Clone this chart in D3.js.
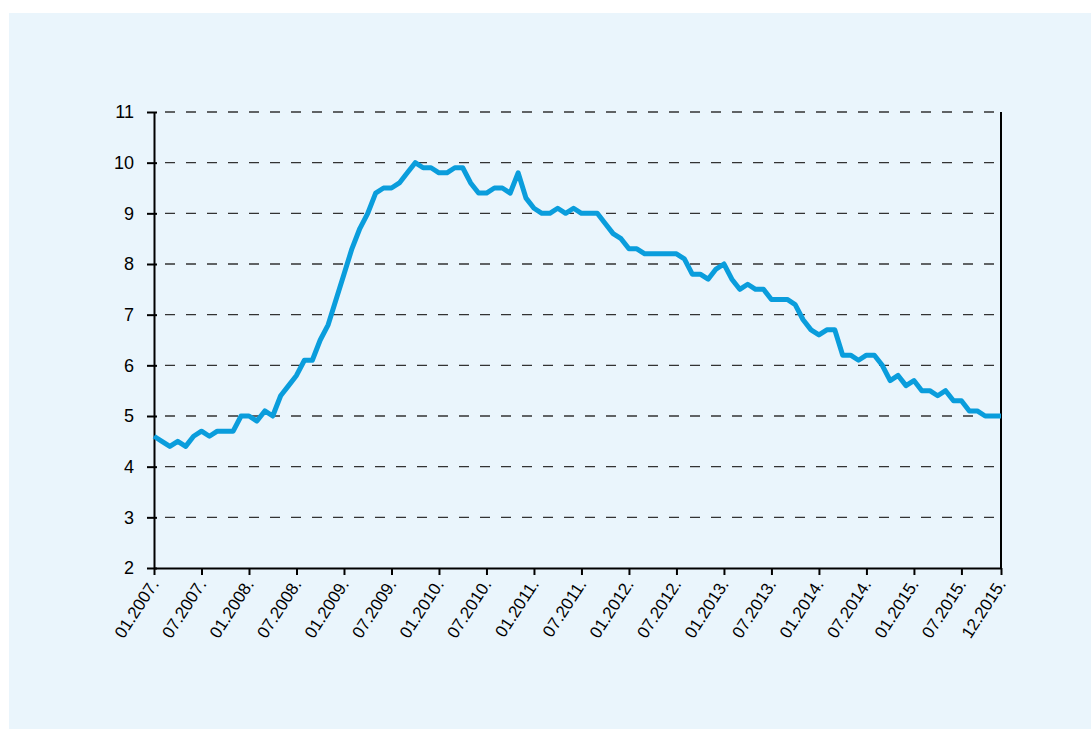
<!DOCTYPE html>
<html>
<head>
<meta charset="utf-8">
<script src="https://cdn.jsdelivr.net/npm/d3@7"></script>
<style>
	body { margin: 0; background: #ffffff; }
	svg { display: block; font-family: "Liberation Sans", Arial, sans-serif; }
</style>
</head>
<body>
<div id="chart-area"></div>
<script>
// monthly values, 01.2007 - 12.2015
var values = [
	4.6, 4.5, 4.4, 4.5, 4.4, 4.6, 4.7, 4.6, 4.7, 4.7, 4.7, 5.0,
	5.0, 4.9, 5.1, 5.0, 5.4, 5.6, 5.8, 6.1, 6.1, 6.5, 6.8, 7.3,
	7.8, 8.3, 8.7, 9.0, 9.4, 9.5, 9.5, 9.6, 9.8, 10.0, 9.9, 9.9,
	9.8, 9.8, 9.9, 9.9, 9.6, 9.4, 9.4, 9.5, 9.5, 9.4, 9.8, 9.3,
	9.1, 9.0, 9.0, 9.1, 9.0, 9.1, 9.0, 9.0, 9.0, 8.8, 8.6, 8.5,
	8.3, 8.3, 8.2, 8.2, 8.2, 8.2, 8.2, 8.1, 7.8, 7.8, 7.7, 7.9,
	8.0, 7.7, 7.5, 7.6, 7.5, 7.5, 7.3, 7.3, 7.3, 7.2, 6.9, 6.7,
	6.6, 6.7, 6.7, 6.2, 6.2, 6.1, 6.2, 6.2, 6.0, 5.7, 5.8, 5.6,
	5.7, 5.5, 5.5, 5.4, 5.5, 5.3, 5.3, 5.1, 5.1, 5.0, 5.0, 5.0
];

// x tick positions (month index) and labels
var tickMonths = [0, 6, 12, 18, 24, 30, 36, 42, 48, 54, 60, 66, 72, 78, 84, 90, 96, 102, 107];
var tickLabels = [
	"01.2007.", "07.2007.", "01.2008.", "07.2008.", "01.2009.", "07.2009.",
	"01.2010.", "07.2010.", "01.2011.", "07.2011.", "01.2012.", "07.2012.",
	"01.2013.", "07.2013.", "01.2014.", "07.2014.", "01.2015.", "07.2015.", "12.2015."
];

var yTicks = [2, 3, 4, 5, 6, 7, 8, 9, 10, 11];

var W = 1091, H = 729;
var margin = { left: 154, right: 90, top: 112, bottom: 161 };
var width = W - margin.left - margin.right,
	height = H - margin.top - margin.bottom;

var svg = d3.select("#chart-area")
	.append("svg")
	.attr("width", W)
	.attr("height", H);

// background panel
svg.append("rect")
	.attr("x", 9)
	.attr("y", 13)
	.attr("width", W - 9)
	.attr("height", H - 13)
	.attr("fill", "#eaf5fc");

var g = svg.append("g")
	.attr("transform", "translate(" + margin.left + "," + margin.top + ")");

// Scales
var x = d3.scaleLinear()
	.domain([0, 107])
	.range([0, width]);

var y = d3.scaleLinear()
	.domain([2, 11])
	.range([height, 0]);

// grid lines
g.append("g")
	.attr("class", "grid")
	.selectAll("line")
	.data(yTicks.filter(function (d) { return d > 2; }))
	.enter()
	.append("line")
	.attr("x1", 0)
	.attr("x2", width)
	.attr("y1", function (d) { return y(d); })
	.attr("y2", function (d) { return y(d); })
	.attr("stroke", "#333")
	.attr("stroke-width", 1.3)
	.attr("stroke-dasharray", "10,11")
	.attr("stroke-dashoffset", -11);

// Y Axis
var yAxis = d3.axisLeft(y)
	.tickValues(yTicks)
	.tickSizeInner(7)
	.tickSizeOuter(0)
	.tickPadding(13)
	.tickFormat(d3.format("d"));

var yg = g.append("g")
	.attr("class", "y-axis")
	.call(yAxis);

yg.select(".domain").attr("stroke", "#000").attr("stroke-width", 2);
yg.selectAll(".tick line")
	.attr("x2", -7)
	.attr("x1", 3)
	.attr("stroke", "#000")
	.attr("stroke-width", 2);
yg.selectAll(".tick text")
	.style("font-size", "18px")
	.style("font-family", "'Liberation Sans', Arial, sans-serif")
	.attr("fill", "#000");

// X Axis
var xAxis = d3.axisBottom(x)
	.tickValues(tickMonths)
	.tickSizeInner(7)
	.tickSizeOuter(0)
	.tickFormat(function (d, i) { return tickLabels[i]; });

var xg = g.append("g")
	.attr("class", "x-axis")
	.attr("transform", "translate(0," + height + ")")
	.call(xAxis);

xg.select(".domain").attr("stroke", "#000").attr("stroke-width", 2);
xg.selectAll(".tick line")
	.attr("stroke", "#000")
	.attr("stroke-width", 2);
xg.selectAll(".tick text")
	.style("font-size", "17px")
	.style("font-family", "'Liberation Sans', Arial, sans-serif")
	.attr("fill", "#000")
	.attr("text-anchor", "end")
	.attr("dy", null)
	.attr("y", null)
	.attr("transform", "translate(5,16) rotate(-57)");

// right border
g.append("line")
	.attr("x1", width)
	.attr("x2", width)
	.attr("y1", 0)
	.attr("y2", height)
	.attr("stroke", "#000")
	.attr("stroke-width", 2);

// the series
var line = d3.line()
	.x(function (d, i) { return x(i); })
	.y(function (d) { return y(d); });

g.append("path")
	.datum(values)
	.attr("fill", "none")
	.attr("stroke", "#0a9ddc")
	.attr("stroke-width", 5)
	.attr("stroke-linejoin", "round")
	.attr("d", line);
</script>
</body>
</html>
